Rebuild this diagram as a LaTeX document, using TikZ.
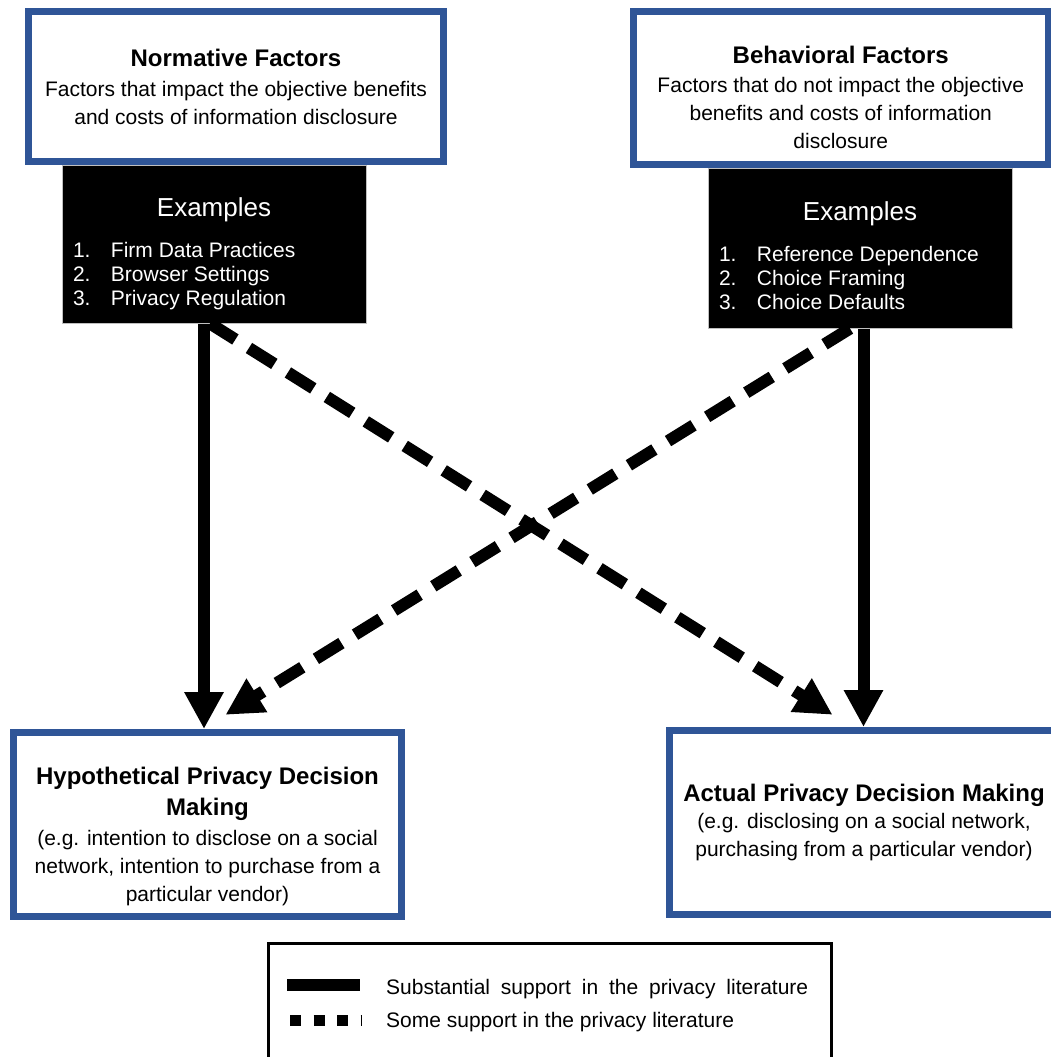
\documentclass[tikz,border=0pt]{standalone}
\usepackage{fontspec}
\setmainfont{Liberation Sans}
\usepackage{tikz}
\usetikzlibrary{positioning,arrows.meta}
\definecolor{boxblue}{RGB}{47,85,151}

\newcommand{\ttl}[1]{{\fontsize{24}{28}\selectfont\bfseries #1}}
\newcommand{\exlist}[3]{\begin{tabular}[t]{@{}p{38pt}@{}p{244pt}@{}}1.&#1\\2.&#2\\3.&#3\end{tabular}}

\begin{document}
\begin{tikzpicture}[
    x=1pt, y=-1pt,
    factbox/.style={draw=boxblue, line width=7pt, fill=white, align=center, inner sep=0pt,
        font=\fontsize{21}{28}\selectfont},
    exbox/.style={fill=black, draw=gray!50, line width=1pt, text=white, align=center, inner sep=0pt,
        minimum width=304pt, minimum height=158pt, font=\fontsize{21}{24}\selectfont},
    arr/.style={-{Triangle[length=37pt, width=37pt]}, line width=12pt},
    dasharr/.style={arr, dash pattern=on 30pt off 16pt}
]
\clip (0,0) rectangle (1051,1057);

\node[factbox, minimum width=415pt, minimum height=150pt] (norm) at (236,86.5)
    {\ttl{Normative Factors}\\[2pt]
     Factors that impact the objective benefits\\
     and costs of information disclosure};
\node[factbox, minimum width=414.5pt, minimum height=153pt] (behav) at (840.75,88)
    {\rule{0pt}{36pt}\ttl{Behavioral Factors}\\[1.5pt]
     Factors that do not impact the objective\\
     benefits and costs of information\\
     disclosure};

\node[exbox] (normex) at (214,244)
    {\rule{0pt}{42pt}{\fontsize{26}{30}\selectfont Examples}\\[17pt]
     \exlist{Firm Data Practices}{Browser Settings}{Privacy Regulation}};
\node[exbox, minimum height=160pt] (behavex) at (860,248)
    {\rule{0pt}{42pt}{\fontsize{26}{30}\selectfont Examples}\\[17pt]
     \exlist{Reference Dependence}{Choice Framing}{Choice Defaults}};

\node[factbox, minimum width=388pt, minimum height=184pt] (hypo) at (207.5,824.5)
    {\rule{0pt}{42pt}\ttl{Hypothetical Privacy Decision}\\[3pt]
     \ttl{Making}\\[2pt]
     (e.g. intention to disclose on a social\\
     network, intention to purchase from a\\
     particular vendor)};
\node[factbox, minimum width=389pt, minimum height=184pt] (actual) at (864,822.5)
    {\ttl{Actual Privacy Decision Making}\\[-1pt]
     (e.g. disclosing on a social network,\\
     purchasing from a particular vendor)};

\draw[arr] ([xshift=-10pt]normex.south) -- ([xshift=-3.5pt]hypo.north);
\draw[arr] ([xshift=3.5pt]behavex.south) -- ([xshift=-0.5pt]actual.north);
\draw[dasharr, shorten >=23pt] ([xshift=-4pt]normex.south) -- ([xshift=-12pt]actual.north);
\draw[dasharr, shorten >=27pt] ([xshift=-10pt]behavex.south) -- ([xshift=-5pt]hypo.north);

% legend
\node[draw, line width=2.5pt, minimum width=563pt, minimum height=130pt, inner sep=0pt] (legend) at (550,1008.5) {};
\node[anchor=base west, inner sep=0pt, font=\fontsize{21}{24}\selectfont] (lsub) at (386,994.5)
    {\makebox[422pt][s]{Substantial support in the privacy literature}};
\node[anchor=base west, inner sep=0pt, font=\fontsize{21}{24}\selectfont] (lsome) at (386,1027.5)
    {Some support in the privacy literature};
\draw[line width=12pt] (287,984.5) -- (360,984.5);
\draw[line width=11pt, dash pattern=on 11pt off 12.5pt] (290,1020) -- (362,1020);

\end{tikzpicture}
\end{document}
